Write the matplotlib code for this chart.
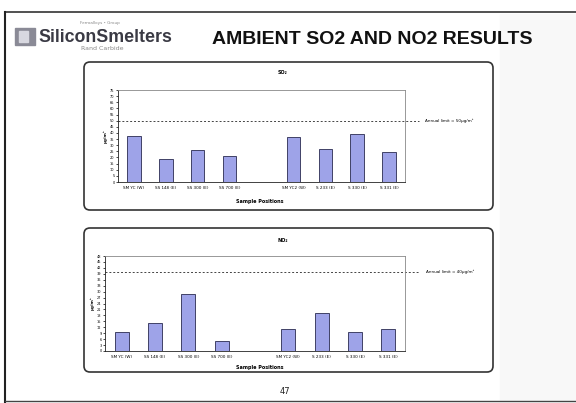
import matplotlib
matplotlib.use("Agg")
import matplotlib.pyplot as plt
from matplotlib.patches import FancyBboxPatch, Rectangle

sample_labels = ["SM YC (W)", "SS 148 (E)", "SS 300 (E)", "SS 700 (E)", "",
                 "SM YC2 (W)", "S 233 (E)", "S 330 (E)", "S 331 (E)"]
so2_values = [37.4, 19.1, 25.9, 21.0, None, 36.8, 27.3, 38.8, 24.5]
no2_values = [9.8, 14.3, 28.8, 5.1, None, 11.3, 19.4, 9.4, 11.1]
so2_limit = 50
no2_limit = 40
so2_ticks = list(range(0, 80, 5))
no2_ticks = list(range(0, 51, 3))

W, H = 576, 403
bar_color = "#9ea3e8"

fig = plt.figure(figsize=(W / 100, H / 100), dpi=100)

# fundo do slide em coordenadas de pixel
bg = fig.add_axes([0, 0, 1, 1])
bg.set_xlim(0, W)
bg.set_ylim(H, 0)
bg.axis("off")
bg.add_patch(Rectangle((500, 14), 76, 386, color="#f8f8f8", zorder=0))
bg.plot([5, W], [12, 12], color="#333333", lw=1.2)
bg.plot([5, 5], [12, H], color="#222222", lw=1.5)
bg.plot([5, W], [H - 2, H - 2], color="#444444", lw=1)

# logo e titulo
bg.add_patch(Rectangle((15, 28), 20, 17, color="#8a8a96"))
bg.add_patch(Rectangle((19, 31), 9, 11, color="#d8d8e0"))
bg.text(38, 37, "SiliconSmelters", fontsize=12.8, fontweight="bold",
        color="#3a3a44", va="center", ha="left", family="Liberation Sans")
bg.text(100, 23, "Ferroalloys • Group", fontsize=3, color="#888888", ha="center", va="center")
bg.text(102, 48, "Rand Carbide", fontsize=4.5, color="#888888", ha="center", va="center")
bg.text(372, 40, "AMBIENT SO2 AND NO2 RESULTS", fontsize=14, fontweight="bold",
        color="#111111", ha="center", va="center", family="Liberation Sans")
bg.text(285, 391, "47", fontsize=6, color="#222222", ha="center", va="center")

# paineis arredondados
for (x0, y0, x1, y1) in [(84, 62, 493, 210), (84, 228, 493, 372)]:
    bg.add_patch(FancyBboxPatch((x0, y0), x1 - x0, y1 - y0,
                                boxstyle="round,pad=0,rounding_size=6",
                                facecolor="white", edgecolor="#333333", lw=1.2))


def draw_chart(rect, values, ticks, limit, title, xlabel_y, title_y):
    ax = fig.add_axes(rect)
    x = list(range(len(values)))
    hx = [i for i, v in zip(x, values) if v is not None]
    hv = [v for v in values if v is not None]
    ax.bar(hx, hv, width=0.42, color=bar_color, edgecolor="#2a2a50", lw=0.6, zorder=2)
    ax.set_xlim(-0.5, len(values) - 0.5)
    ax.set_ylim(0, ticks[-1])
    ax.set_yticks(ticks)
    ax.set_yticklabels([str(t) for t in ticks], fontsize=2.5)
    ax.tick_params(axis="y", length=1.5, width=0.5, pad=1)
    ax.set_xticks(hx)
    ax.set_xticklabels([sample_labels[i] for i in hx], fontsize=3)
    ax.tick_params(axis="x", length=0, pad=3)
    for s in ax.spines.values():
        s.set_color("#888888")
        s.set_linewidth(0.6)
    ax.spines["left"].set_color("#222222")
    ax.spines["bottom"].set_color("#222222")
    ax.axhline(limit, xmin=0, xmax=1.05, color="#444444", ls=(0, (2, 2)),
               lw=0.7, clip_on=False, zorder=1)
    ax.text(1.07, limit, "Annual limit = %dµg/m³" % limit, fontsize=3,
            transform=ax.get_yaxis_transform(), va="center", ha="left")
    ax.set_ylabel("µg/m³", fontsize=3, labelpad=2, fontweight="bold")
    bg.text(283, title_y, title, fontsize=3.5, ha="center", va="center", fontweight="bold")
    bg.text(260, xlabel_y, "Sample Positions", fontsize=3.5, ha="center", va="center",
            fontweight="bold")
    return ax


draw_chart([118 / W, 1 - 182 / H, 287 / W, 92 / H], so2_values, so2_ticks,
           so2_limit, "SO₂", 201, 72)
draw_chart([105 / W, 1 - 351 / H, 300 / W, 95 / H], no2_values, no2_ticks,
           no2_limit, "NO₂", 368, 240)

fig.savefig("out.png", dpi=100)
